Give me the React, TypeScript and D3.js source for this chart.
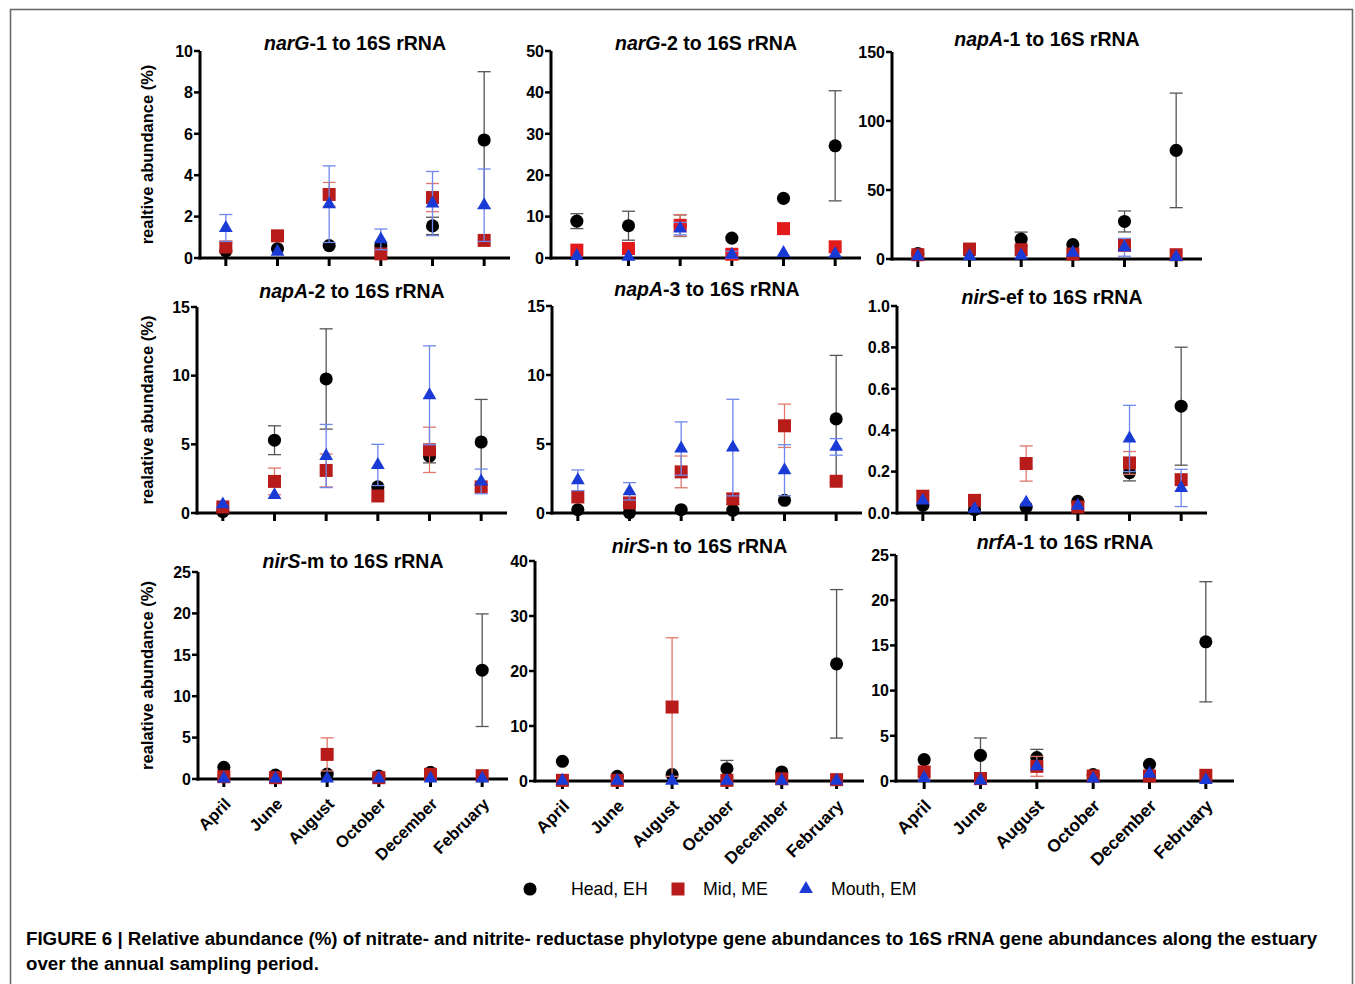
import React from 'react';
import * as d3 from 'd3';

const FONT = "'Liberation Sans', Arial, Helvetica, sans-serif";

const months = ['April', 'June', 'August', 'October', 'December', 'February'];

// Each entry: [mean, error] per month (April..February)
const narG1Head = [[0.35, 0], [0.45, 0], [0.6, 0], [0.6, 0], [1.55, 0.42], [5.7, 3.3]];
const narG1Mid = [[0.53, 0.2], [1.07, 0], [3.07, 0.58], [0.2, 0], [2.92, 0.68], [0.85, 0]];
const narG1Mouth = [[1.45, 0.65], [0.3, 0], [2.6, 1.85], [0.9, 0.5], [2.63, 1.55], [2.55, 1.75]];

const narG2Head = [[8.9, 1.8], [7.8, 3.5], [7.8, 2.6], [4.8, 0], [14.4, 0], [27.1, 13.3]];
const narG2Mid = [[1.9, 0], [2.3, 0], [7.9, 2.6], [0.9, 0], [7.1, 0], [2.7, 0]];
const narG2Mouth = [[0.5, 0], [0.3, 0], [7.1, 1.5], [0.8, 0.8], [1.2, 0], [1.0, 0]];

const napA1Head = [[4, 0], [5, 0], [14.4, 5.1], [10.4, 0], [27.2, 7.6], [78.7, 41.5]];
const napA1Mid = [[3.1, 0], [7.2, 0], [6.7, 0], [3.6, 0], [9.9, 0], [3.1, 0]];
const napA1Mouth = [[2, 0], [2, 0], [2.5, 0], [4.5, 0], [8.5, 6.5], [1.5, 0]];

const napA2Head = [[0.1, 0], [5.3, 1.05], [9.76, 3.65], [1.9, 0], [4.15, 0.5], [5.17, 3.1]];
const napA2Mid = [[0.44, 0], [2.3, 0.97], [3.1, 1.2], [1.24, 0], [4.6, 1.65], [1.9, 0.2]];
const napA2Mouth = [[0.63, 0], [1.3, 0], [4.15, 2.3], [3.5, 1.5], [8.57, 3.6], [2.3, 0.9]];

const napA3Head = [[0.24, 0], [0.02, 0], [0.24, 0], [0.2, 0], [0.92, 0], [6.82, 4.6]];
const napA3Mid = [[1.16, 0], [0.73, 0], [2.98, 1.15], [1.02, 0.4], [6.32, 1.57], [2.3, 0]];
const napA3Mouth = [[2.37, 0.75], [1.57, 0.63], [4.67, 1.93], [4.74, 3.5], [3.1, 1.85], [4.79, 0.6]];

const nirSefHead = [[0.037, 0], [0.016, 0], [0.029, 0], [0.056, 0], [0.195, 0.04], [0.516, 0.285]];
const nirSefMid = [[0.08, 0.03], [0.061, 0], [0.239, 0.085], [0.029, 0], [0.242, 0.055], [0.161, 0]];
const nirSefMouth = [[0.06, 0], [0.02, 0], [0.05, 0], [0.035, 0], [0.36, 0.16], [0.121, 0.09]];

const nirSmHead = [[1.41, 0], [0.48, 0], [0.6, 0], [0.36, 0], [0.8, 0], [13.14, 6.8]];
const nirSmMid = [[0.28, 0], [0.16, 0], [2.97, 2.0], [0.16, 0], [0.56, 0], [0.4, 0]];
const nirSmMouth = [[0.05, 0], [0.05, 0], [0.05, 0], [0.05, 0], [0.05, 0], [0.05, 0]];

const nirSnHead = [[3.58, 0], [0.85, 0], [1.15, 0], [2.24, 1.5], [1.64, 0], [21.3, 13.5]];
const nirSnMid = [[0.12, 0], [0.12, 0], [13.45, 12.6], [0.12, 0], [0.4, 0], [0.24, 0]];
const nirSnMouth = [[0.05, 0], [0.05, 0], [0.05, 0], [0.05, 0], [0.05, 0], [0.05, 0]];

const nrfA1Head = [[2.36, 0], [2.84, 1.92], [2.58, 0.92], [0.7, 0], [1.85, 0], [15.4, 6.65]];
const nrfA1Mid = [[1.0, 0], [0.26, 0], [1.62, 1.1], [0.55, 0], [0.55, 0], [0.63, 0]];
const nrfA1Mouth = [[0.33, 0], [0.05, 0], [1.62, 0], [0.26, 0], [0.81, 0], [0.1, 0]];

const legendNames = ['Head, EH', 'Mid, ME', 'Mouth, EM'];

const captionLines = [
  'FIGURE 6 | Relative abundance (%) of nitrate- and nitrite- reductase phylotype gene abundances to 16S rRNA gene abundances along the estuary',
  'over the annual sampling period.',
];

const seriesStyle = [
  { symbol: d3.symbolCircle, size: 135, fill: '#000000', err: '#555555' },
  { symbol: d3.symbolSquare, size: 169, fill: '#b71c1a', err: '#e0776c' },
  { symbol: d3.symbolTriangle, size: 82, fill: '#1a3ad6', err: '#7088ea' },
];

const fInt = d3.format('d');
const f1 = d3.format('.1f');

const panels = [
  { gene: 'narG', rest: '-1 to 16S rRNA', data: [narG1Head, narG1Mid, narG1Mouth], ticks: [0, 2, 4, 6, 8, 10], fmt: fInt,
    x0: 200, x1: 510, yTop: 51, yBot: 258, titleY: 50, ylabel: 'realtive abundance (%)', months: false },
  { gene: 'narG', rest: '-2 to 16S rRNA', data: [narG2Head, narG2Mid, narG2Mouth], ticks: [0, 10, 20, 30, 40, 50], fmt: fInt,
    x0: 551, x1: 861, yTop: 51, yBot: 258, titleY: 50, ylabel: null, months: false, red: '#e31a1c' },
  { gene: 'napA', rest: '-1 to 16S rRNA', data: [napA1Head, napA1Mid, napA1Mouth], ticks: [0, 50, 100, 150], fmt: fInt,
    x0: 892, x1: 1202, yTop: 52, yBot: 259, titleY: 46, ylabel: null, months: false },
  { gene: 'napA', rest: '-2 to 16S rRNA', data: [napA2Head, napA2Mid, napA2Mouth], ticks: [0, 5, 10, 15], fmt: fInt,
    x0: 197, x1: 507, yTop: 307, yBot: 513, titleY: 298, ylabel: 'realative abundance (%)', months: false },
  { gene: 'napA', rest: '-3 to 16S rRNA', data: [napA3Head, napA3Mid, napA3Mouth], ticks: [0, 5, 10, 15], fmt: fInt,
    x0: 552, x1: 862, yTop: 306, yBot: 513, titleY: 296, ylabel: null, months: false },
  { gene: 'nirS', rest: '-ef to 16S rRNA', data: [nirSefHead, nirSefMid, nirSefMouth], ticks: [0, 0.2, 0.4, 0.6, 0.8, 1.0], fmt: f1,
    x0: 897, x1: 1207, yTop: 306, yBot: 513, titleY: 304, ylabel: null, months: false },
  { gene: 'nirS', rest: '-m to 16S rRNA', data: [nirSmHead, nirSmMid, nirSmMouth], ticks: [0, 5, 10, 15, 20, 25], fmt: fInt,
    x0: 198, x1: 508, yTop: 572, yBot: 779, titleY: 568, ylabel: 'realative abundance (%)', months: true, mfs: 16.5 },
  { gene: 'nirS', rest: '-n to 16S rRNA', data: [nirSnHead, nirSnMid, nirSnMouth], ticks: [0, 10, 20, 30, 40], fmt: fInt,
    x0: 535, x1: 864, yTop: 561, yBot: 781, titleY: 553, ylabel: null, months: true, mfs: 17 },
  { gene: 'nrfA', rest: '-1 to 16S rRNA', data: [nrfA1Head, nrfA1Mid, nrfA1Mouth], ticks: [0, 5, 10, 15, 20, 25], fmt: fInt,
    x0: 896, x1: 1234, yTop: 555, yBot: 781, titleY: 549, ylabel: null, months: true, mfs: 17.5 },
];

function Panel({ p }: { p: any }) {
  const x = d3.scalePoint<string>().domain(months).range([p.x0, p.x1]).padding(0.5);
  const yMax = p.ticks[p.ticks.length - 1];
  const y = d3.scaleLinear().domain([0, yMax]).range([p.yBot, p.yTop]);
  const cx = (p.x0 + p.x1) / 2;
  const cy = (p.yTop + p.yBot) / 2;
  return (
    <g>
      <text x={cx} y={p.titleY} textAnchor="middle" fontFamily={FONT} fontWeight="bold" fontSize={19.5} fill="#000">
        <tspan fontStyle="italic">{p.gene}</tspan>
        <tspan>{p.rest}</tspan>
      </text>
      {p.ylabel && (
        <text transform={`translate(153,${cy}) rotate(-90)`} textAnchor="middle" fontFamily={FONT}
          fontWeight="bold" fontSize={16.5} fill="#000">{p.ylabel}</text>
      )}
      {/* axes */}
      <line x1={p.x0} x2={p.x0} y1={p.yBot + 1.5} y2={p.yTop} stroke="#000" strokeWidth={3} />
      <line x1={p.x0 - 1.5} x2={p.x1} y1={p.yBot} y2={p.yBot} stroke="#000" strokeWidth={3} />
      {p.ticks.map((t: number) => (
        <g key={'yt' + t}>
          <line x1={p.x0 - 6} x2={p.x0} y1={y(t)} y2={y(t)} stroke="#000" strokeWidth={2.5} />
          <text x={p.x0 - 7} y={y(t)} dy="0.36em" textAnchor="end" fontFamily={FONT} fontWeight="bold"
            fontSize={16} fill="#000">{p.fmt(t)}</text>
        </g>
      ))}
      {months.map((m) => (
        <g key={'xt' + m}>
          <line x1={x(m)} x2={x(m)} y1={p.yBot} y2={p.yBot + 8} stroke="#000" strokeWidth={3} />
          {p.months && (
            <text transform={`translate(${(x(m) as number) + 8},${p.yBot + 26}) rotate(-45)`} textAnchor="end"
              fontFamily={FONT} fontWeight="bold" fontSize={p.mfs} fill="#000">{m}</text>
          )}
        </g>
      ))}
      {/* series */}
      {p.data.map((ser: number[][], si: number) => {
        const st = seriesStyle[si];
        const fill = si === 1 && p.red ? p.red : st.fill;
        const path = d3.symbol().type(st.symbol).size(st.size)() as string;
        return (
          <g key={'s' + si}>
            {ser.map((d, i) => {
              const [mv, e] = d;
              if (!e) return null;
              const xx = x(months[i]) as number;
              const lo = y(Math.max(0, mv - e));
              const hi = y(mv + e);
              return (
                <g key={'e' + i} stroke={st.err} strokeWidth={1.3}>
                  <line x1={xx} x2={xx} y1={lo} y2={hi} />
                  <line x1={xx - 6.5} x2={xx + 6.5} y1={hi} y2={hi} />
                  <line x1={xx - 6.5} x2={xx + 6.5} y1={lo} y2={lo} />
                </g>
              );
            })}
            {ser.map((d, i) => (
              <path key={'m' + i} d={path} transform={`translate(${x(months[i])},${y(d[0])})`} fill={fill} />
            ))}
          </g>
        );
      })}
    </g>
  );
}

export default function App() {
  const legendX = [530, 678, 806];
  const legendTextX = [571, 703, 831];
  return (
    <svg width={1355} height={984} style={{ position: 'absolute', left: 0, top: 0, background: '#fff' }}>
      <rect x={0} y={0} width={1355} height={984} fill="#fff" />
      <rect x={10.5} y={9.5} width={1342} height={1000} fill="none" stroke="#6a6a6a" strokeWidth={1.6} />
      {panels.map((p, i) => <Panel key={i} p={p} />)}
      {legendNames.map((n, i) => {
        const st = seriesStyle[i];
        const path = d3.symbol().type(st.symbol).size(st.size)() as string;
        return (
          <g key={n}>
            <path d={path} transform={`translate(${legendX[i]},${889})`} fill={st.fill} />
            <text x={legendTextX[i]} y={895} fontFamily={FONT} fontSize={17.7} fill="#000">{n}</text>
          </g>
        );
      })}
      {captionLines.map((l, i) => (
        <text key={i} x={26} y={945 + i * 25} fontFamily={FONT} fontWeight="bold" fontSize={18.7} fill="#000">{l}</text>
      ))}
    </svg>
  );
}
